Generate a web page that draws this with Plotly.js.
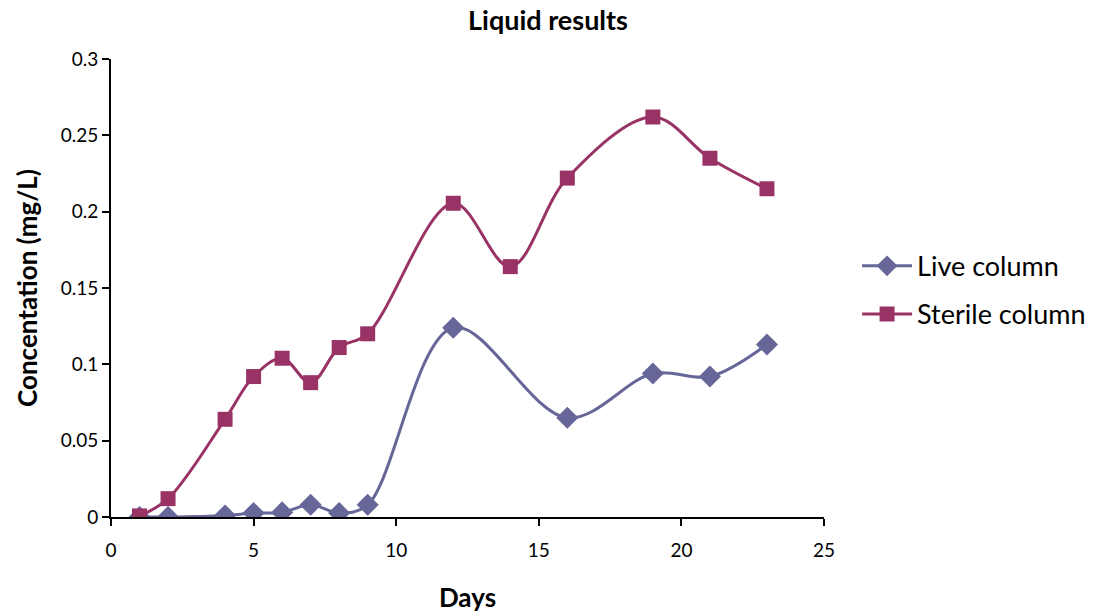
<!DOCTYPE html>
<html>
<head>
<meta charset="utf-8">
<script src="https://cdn.plot.ly/plotly-3.0.1.min.js"></script>
<style>
  html, body { margin: 0; padding: 0; background: #fff; }
  #chart { width: 1096px; height: 613px; }
</style>
</head>
<body>
<div id="chart"></div>
<script>
// Sampling days for each column
const liveDays    = [1, 2, 4, 5, 6, 7, 8, 9, 12, 16, 19, 21, 23];
const sterileDays = [1, 2, 4, 5, 6, 7, 8, 9, 12, 14, 16, 19, 21, 23];

// Measured concentration (mg/L)
const liveConc    = [0, 0, 0.001, 0.0026, 0.003, 0.008, 0.0026, 0.008, 0.124, 0.065, 0.094, 0.092, 0.113];
const sterileConc = [0.0007, 0.012, 0.064, 0.092, 0.104, 0.088, 0.111, 0.12, 0.2055, 0.164, 0.222, 0.262, 0.235, 0.215];

const seriesNames = ['Live column', 'Sterile column'];

const FONT = 'Lato, "Noto Sans", sans-serif';

const traces = [
  {
    x: liveDays, y: liveConc, name: seriesNames[0],
    type: 'scatter', mode: 'lines+markers', legendgroup: 'a',
    line: { color: '#666699', width: 3, shape: 'spline', smoothing: 1 },
    marker: { symbol: 'diamond', size: 17, color: '#666699' }
  },
  {
    x: sterileDays, y: sterileConc, name: seriesNames[1],
    type: 'scatter', mode: 'lines+markers', legendgroup: 'b',
    line: { color: '#993366', width: 3, shape: 'spline', smoothing: 1 },
    marker: { symbol: 'square', size: 15, color: '#993366' }
  }
];

const layout = {
  width: 1096, height: 613,
  margin: { l: 111, r: 272, t: 59, b: 96, autoexpand: false },
  paper_bgcolor: '#ffffff', plot_bgcolor: '#ffffff',
  font: { family: FONT, color: '#000' },
  title: {
    text: '<b>Liquid results</b>',
    font: { family: FONT, size: 27, color: '#000' },
    xref: 'container', x: 0.5, xanchor: 'center',
    yref: 'container', y: 0.967, yanchor: 'middle'
  },
  xaxis: {
    range: [0, 25], dtick: 5, tick0: 0,
    showgrid: false, zeroline: false, automargin: false,
    showline: true, linecolor: '#000', linewidth: 2,
    ticks: 'outside', ticklen: 7, tickwidth: 2, tickcolor: '#000',
    ticklabelstandoff: 8,
    tickfont: { family: FONT, size: 19, color: '#000' },
    title: { text: '<b>Days</b>', font: { family: FONT, size: 26, color: '#000' }, standoff: 30 }
  },
  yaxis: {
    range: [0, 0.3], dtick: 0.05, tick0: 0,
    showgrid: false, zeroline: false, automargin: false,
    showline: true, linecolor: '#000', linewidth: 2,
    ticks: 'outside', ticklen: 7, tickwidth: 2, tickcolor: '#000',
    tickfont: { family: FONT, size: 19, color: '#000' },
    title: { text: '<b>Concentation (mg/L)</b>', font: { family: FONT, size: 26, color: '#000' }, standoff: 16 }
  },
  showlegend: true,
  legend: {
    xref: 'container', x: 0.782, xanchor: 'left',
    y: 0.495, yanchor: 'middle',
    font: { family: FONT, size: 27, color: '#000' },
    itemwidth: 50, tracegroupgap: 10,
    bgcolor: 'rgba(0,0,0,0)'
  }
};

Plotly.newPlot('chart', traces, layout, { displayModeBar: false, staticPlot: true });
</script>
</body>
</html>
